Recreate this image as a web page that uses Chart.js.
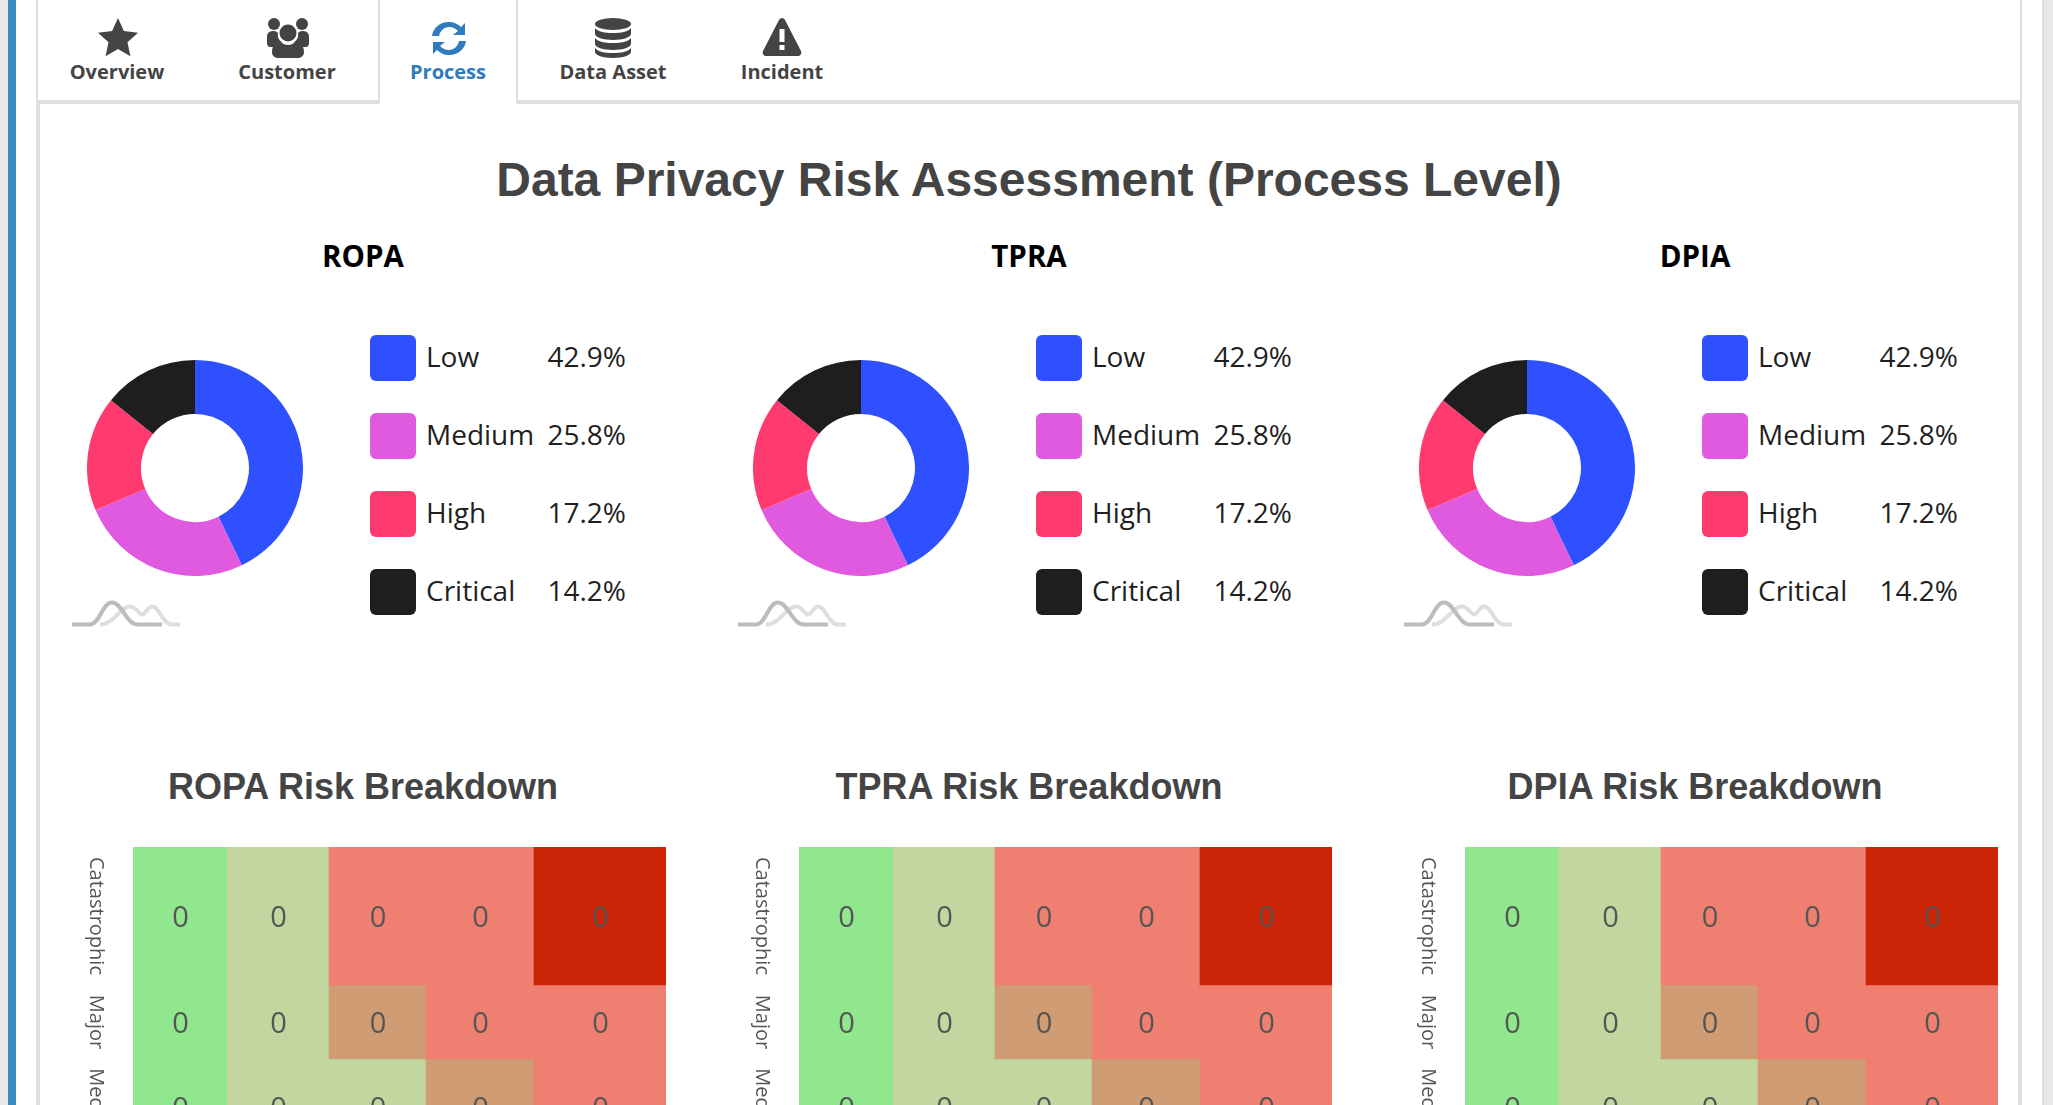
<!DOCTYPE html>
<html>
<head>
<meta charset="utf-8">
<title>Data Privacy Risk Assessment</title>
<script src="https://cdn.jsdelivr.net/npm/chart.js@4"></script>
<style>
html,body{margin:0;padding:0;width:2053px;height:1105px;overflow:hidden;background:#fff;font-family:"Open Sans",sans-serif;}
.abs{position:absolute;}
.line{position:absolute;background:#e0e0e0;}
.tab{position:absolute;top:62px;transform:translateX(-50%);font-size:20px;line-height:20px;font-weight:700;color:#444;white-space:nowrap;}
.icon{position:absolute;}
.heading{position:absolute;transform:translate(-50%,-50%);font-family:"Liberation Sans",sans-serif;font-weight:700;color:#444;white-space:nowrap;}
.name{position:absolute;top:236px;line-height:40px;transform:translateX(-50%);font-size:29.5px;font-weight:700;color:#000;}
.swatch{position:absolute;width:46px;height:46px;border-radius:6px;}
.lbl,.pct{position:absolute;font-size:28px;line-height:40px;color:#1f1f1f;white-space:nowrap;}
canvas{position:absolute;}
</style>
</head>
<body>
<div class="abs" style="left:0;top:0;width:8px;height:1105px;background:#e8e8e8"></div>
<div class="abs" style="left:8px;top:0;width:8px;height:1105px;background:#3a8abf"></div>
<div class="abs" style="left:2042px;top:0;width:2px;height:1105px;background:#dcdcdc"></div>
<div class="abs" style="left:2044px;top:0;width:9px;height:1105px;background:#e8e8e8"></div>
<div class="line" style="left:36px;top:0;width:2px;height:100px"></div>
<div class="line" style="left:378px;top:0;width:2px;height:100px"></div>
<div class="line" style="left:516px;top:0;width:2px;height:100px"></div>
<div class="line" style="left:2020px;top:0;width:2px;height:100px"></div>
<div class="line" style="left:36px;top:100px;width:344px;height:4px"></div>
<div class="line" style="left:516px;top:100px;width:1506px;height:4px"></div>
<div class="line" style="left:36px;top:104px;width:4px;height:1001px"></div>
<div class="line" style="left:2018px;top:104px;width:4px;height:1001px"></div>

<svg class="icon" style="left:98px;top:17px" width="40" height="40" viewBox="0 0 38 38"><path fill="#444" d="M19 1l5.600 12.400 13.400 1.500-10 9 2.800 13.300L19 30.500 7.200 37.200 10 23.900 0 14.900l13.400-1.500z"/></svg>
<svg class="icon" style="left:266px;top:18px" width="44" height="40" viewBox="0 0 44 40"><g fill="#444"><circle cx="8" cy="6" r="6"/><circle cx="36" cy="6" r="6"/><circle cx="22" cy="15" r="8.500"/><path d="M1 19c0-5 3-6 7-6 2 0 3 1 4 2-1 5 2 8 4 9-2 1-4 3-5 5H4c-2 0-3-2-3-4z"/><path d="M43 19c0-5-3-6-7-6-2 0-3 1-4 2 1 5-2 8-4 9 2 1 4 3 5 5h7c2 0 3-2 3-4z"/><path d="M6 34c0-7 4-10 9-10 2 2 4 3 7 3s5-1 7-3c5 0 9 3 9 10 0 4-3 6-7 6H13c-4 0-7-2-7-6z"/></g></svg>
<svg class="icon" style="left:431px;top:21px" width="36" height="35" viewBox="0 0 36 35"><g fill="#2f7bbd"><path d="M1 15C2 7 9 1 18 1c5 0 9 2 12 5l4-4v12H22l5-4c-2-2-5-4-9-4-5 0-9 4-10 9z"/><path d="M35 20c-1 8-8 14-17 14-5 0-9-2-12-5l-4 4V21h12l-5 4c2 2 5 4 9 4 5 0 9-4 10-9z"/></g></svg>
<svg class="icon" style="left:595px;top:18px" width="36" height="40" viewBox="0 0 36 40"><g fill="#444"><ellipse cx="18" cy="6" rx="18" ry="6"/><path d="M0 10c3 4 10 5 18 5s15-1 18-5v6c0 3-8 6-18 6S0 19 0 16z"/><path d="M0 20c3 4 10 5 18 5s15-1 18-5v6c0 3-8 6-18 6S0 29 0 26z"/><path d="M0 30c3 4 10 5 18 5s15-1 18-5v4c0 3-8 6-18 6S0 37 0 34z"/></g></svg>
<svg class="icon" style="left:762px;top:18px" width="40" height="38" viewBox="0 0 40 38"><path fill="#444" d="M20 0c1.500 0 2.500 1 3 2l16 31c1 2.500-.5 5-3 5H4c-2.500 0-4-2.500-3-5L17 2c.5-1 1.500-2 3-2z"/><rect x="17.500" y="11" width="5" height="13" fill="#fff"/><rect x="17.500" y="27" width="5" height="5" fill="#fff"/></svg>

<div class="tab" style="left:117px">Overview</div>
<div class="tab" style="left:287px">Customer</div>
<div class="tab" style="left:448px;color:#2f7bbd">Process</div>
<div class="tab" style="left:613px">Data Asset</div>
<div class="tab" style="left:782px">Incident</div>

<div class="heading" style="left:1029px;top:179px;font-size:48px">Data Privacy Risk Assessment (Process Level)</div>

<div id="panels"></div>

<script>
// panel names and donut values
const panelNames = ['ROPA','TPRA','DPIA'];
const riskLevels = ['Low','Medium','High','Critical'];
const ropaShare = [42.9,25.8,17.2,14.2];
const tpraShare = [42.9,25.8,17.2,14.2];
const dpiaShare = [42.9,25.8,17.2,14.2];
const riskColors = ['#2f50ff','#e05ae0','#ff3a6e','#1e1e1e'];

// heatmap values, top row first
const impactLabels = ['Catastrophic','Major','Medium'];
const ropaCells = [[0,0,0,0,0],[0,0,0,0,0],[0,0,0,0,0]];
const tpraCells = [[0,0,0,0,0],[0,0,0,0,0],[0,0,0,0,0]];
const dpiaCells = [[0,0,0,0,0],[0,0,0,0,0],[0,0,0,0,0]];
const cellGrades = [
  ['safe','mild','warm','warm','hot'],
  ['safe','mild','tan','warm','warm'],
  ['safe','mild','mild','tan','warm']
];

const gradeColors = {safe:'#90e78d',mild:'#c1d79f',tan:'#cf9c73',warm:'#ef7f70',hot:'#cc2407'};
// the grid is not even in the reference, so the axes run over these stops
const colStops = [0,94,196,293,401,533];
const rowStops = [0,138,212,308];
const shares = [ropaShare,tpraShare,dpiaShare];
const cells = [ropaCells,tpraCells,dpiaCells];
const panelShift = [0,666,1332];
const rowMiddles = impactLabels.map((_,i)=>(rowStops[i]+rowStops[i+1])/2);

const panels = document.getElementById('panels');

function addEl(cls,css,text){
  const el=document.createElement('div');
  el.className=cls;
  el.style.cssText=css;
  if(text!==undefined)el.textContent=text;
  panels.appendChild(el);
  return el;
}
function addCanvas(left,top,w,h){
  const c=document.createElement('canvas');
  c.width=w;c.height=h;
  c.style.cssText=`left:${left}px;top:${top}px;width:${w}px;height:${h}px`;
  panels.appendChild(c);
  return c;
}

// writes the cell value in the middle of every bar
const cellText={
  id:'cellText',
  afterDatasetsDraw(chart){
    const ctx=chart.ctx;
    ctx.save();
    ctx.font='29px "Open Sans"';
    ctx.fillStyle='#555';
    ctx.textAlign='center';
    ctx.textBaseline='middle';
    chart.data.datasets.forEach((ds,i)=>{
      chart.getDatasetMeta(i).data.forEach((bar,j)=>{
        const p=bar.getCenterPoint();
        ctx.fillText(ds.values[j],p.x+0.5,p.y+2.5);
      });
    });
    ctx.restore();
  }
};

panelNames.forEach((name,p)=>{
  const dx=panelShift[p];
  addEl('name',`left:${363+dx}px`,name);

  // donut
  new Chart(addCanvas(87+dx,360,216,216),{
    type:'doughnut',
    data:{labels:riskLevels,datasets:[{data:shares[p],backgroundColor:riskColors,borderWidth:0}]},
    options:{responsive:false,animation:false,cutout:'50%',plugins:{legend:{display:false},tooltip:{enabled:false}}}
  });

  // legend rows
  riskLevels.forEach((lvl,i)=>{
    const y=358+i*78;
    addEl('swatch',`left:${370+dx}px;top:${y-23}px;background:${riskColors[i]}`);
    addEl('lbl',`left:${426+dx}px;top:${y-22}px`,lvl);
    addEl('pct',`right:${2053-626-dx}px;top:${y-22}px`,shares[p][i].toFixed(1)+'%');
  });

  // logo under the donut
  const logo=document.createElementNS('http://www.w3.org/2000/svg','svg');
  logo.setAttribute('class','icon');
  logo.setAttribute('width','110');logo.setAttribute('height','30');
  logo.style.cssText=`left:${72+dx}px;top:598px`;
  logo.innerHTML='<g fill="none" stroke-width="4"><path stroke="#dedede" d="M28 26.500c14 0 20-18 30-18 6 0 9 8 12 8s6-8 10-8c8 0 10 18 20 18h8"/><path stroke="#bcbcbc" d="M0 26.500h18c10 0 12-22 22-22s14 22 26 22h24"/></g>';
  panels.appendChild(logo);

  addEl('heading',`left:${363+dx}px;top:787px;font-size:36px`,name+' Risk Breakdown');

  // heatmap, one dataset per row
  const sets=impactLabels.map((_,r)=>({
    data:cellGrades[r].map((_,c)=>({x:[colStops[c],colStops[c+1]],y:rowMiddles[r]})),
    values:cells[p][r],
    backgroundColor:cellGrades[r].map(g=>gradeColors[g]),
    barThickness:rowStops[r+1]-rowStops[r],
    borderWidth:0,
    grouped:false
  }));
  new Chart(addCanvas(70+dx,847,596,308),{
    type:'bar',
    data:{datasets:sets},
    plugins:[cellText],
    options:{
      indexAxis:'y',
      responsive:false,
      animation:false,
      layout:{padding:0},
      plugins:{legend:{display:false},tooltip:{enabled:false}},
      scales:{
        x:{type:'linear',min:0,max:533,display:false,grid:{display:false}},
        y:{
          type:'linear',min:0,max:308,reverse:true,offset:false,
          grid:{display:false,drawTicks:false},border:{display:false},
          afterBuildTicks(axis){axis.ticks=rowMiddles.map(v=>({value:v}));},
          afterFit(axis){axis.width=63;axis.paddingTop=0;axis.paddingBottom=0;},
          ticks:{
            autoSkip:false,minRotation:-90,maxRotation:-90,crossAlign:'center',padding:-21.5,
            color:'#555',font:{family:'"Open Sans"',size:20},
            callback:v=>impactLabels[rowMiddles.indexOf(v)]
          }
        }
      }
    }
  });
});
</script>
</body>
</html>
